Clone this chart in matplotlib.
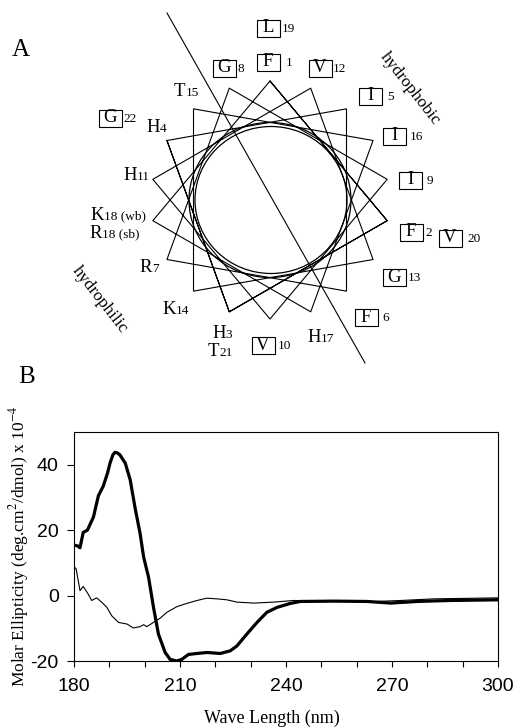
import numpy as np
import matplotlib
matplotlib.use("Agg")
import matplotlib.pyplot as plt
from matplotlib.patches import Rectangle, Ellipse

plt.rcParams["axes.unicode_minus"] = False

# ---------------- data ----------------
residue_letters = ["F", "F", "H", "H", "I", "F", "R", "G", "I", "V", "H",
                   "V", "G", "K", "T", "I", "H", "K", "L", "V", "T", "G"]
residue_numbers = list(range(1, 23))
hydrophobic = [1, 2, 5, 6, 8, 9, 10, 12, 13, 16, 19, 20, 22]
wheel_step_deg = 100

wl_peptide = [180, 181, 181.7, 182.6, 183.8, 185.5, 186.9, 188.3, 189.5, 190.2, 191,
              191.6, 192.3, 193, 194.5, 195.9, 197.3, 198.7, 199.7, 201.1, 202.5,
              203.9, 205.8, 207.2, 209.1, 210.5, 212.4, 214.8, 217.6, 221.4, 224.2,
              226.1, 228.9, 231.8, 234.6, 237.5, 241.2, 244.1, 253.5, 263, 269.6,
              277.2, 286.6, 300]
el_peptide = [15.4, 15.2, 14.6, 19.3, 20, 24, 30.5, 33.5, 37.5, 40.5, 43,
              43.8, 43.6, 43, 40.5, 35.4, 26.7, 19, 11.8, 5.6, -3.6,
              -11.8, -17.4, -19.5, -20, -19.5, -18, -17.7, -17.4, -17.7, -16.9,
              -15.4, -11.8, -8.2, -5.1, -3.6, -2.4, -1.8, -1.7, -1.8, -2.3,
              -1.8, -1.5, -1.3]

wl_control = [180.3, 180.6, 181.7, 182.6, 184, 185, 186.4, 187.8, 189.3, 190.7,
              192.6, 195, 196.8, 198.7, 199.7, 200.6, 202.5, 204.4, 206.3, 209.1,
              211.9, 214.8, 217.6, 220.4, 223.3, 226.1, 230.8, 236.5, 242.2, 253.5,
              263, 272.5, 281.9, 300]
el_control = [8.5, 8.2, 1.5, 2.8, 0.5, -1.5, -0.7, -2, -3.6, -6.2,
              -8.2, -8.7, -9.9, -9.5, -8.9, -9.5, -8.2, -6.9, -5.1, -3.4,
              -2.4, -1.5, -0.8, -1, -1.3, -2, -2.3, -2, -1.5, -1.7,
              -1.9, -1.5, -1, -0.7]

x_ticks = [180, 210, 240, 270, 300]
y_ticks = [-20, 0, 20, 40]

# ---------------- layout ----------------
SERIF = ["Liberation Serif", "DejaVu Serif"]
SANS = ["Liberation Sans", "DejaVu Sans"]

# letter-centre positions of wheel labels (pixel layout)
label_pos = {
    1: (268, 62), 2: (411, 232), 3: (219, 333), 4: (153, 128), 5: (370, 96),
    6: (366, 317), 7: (146, 267), 8: (224, 68), 9: (410, 180), 10: (263, 345),
    11: (130, 176), 12: (320, 68), 13: (394, 277), 14: (169, 310), 15: (179, 92),
    16: (394, 136), 17: (314, 337), 18: (97, 215), 19: (268, 28), 20: (450, 238),
    21: (213, 352), 22: (110, 118),
}
num_gap = {1: 18, 2: 14, 5: 17, 6: 16, 8: 13, 9: 17, 10: 15, 12: 13, 13: 14,
           16: 16, 19: 14, 20: 17, 22: 13}

fig = plt.figure(figsize=(5.14, 7.27), dpi=100)
axA = fig.add_axes([0, 0, 1, 1])
axA.set_xlim(0, 514)
axA.set_ylim(727, 0)
axA.axis("off")

cx, cy, R = 270, 200, 119
ang = np.deg2rad(90 - wheel_step_deg * (np.array(residue_numbers) - 1))
vx = cx + R * np.cos(ang)
vy = cy - R * np.sin(ang)
axA.plot(vx, vy, color="black", lw=0.8)
axA.add_patch(Ellipse((270, 200), 162, 155, fill=False, lw=0.9, ec="black"))
axA.add_patch(Ellipse((271, 200), 152, 147, fill=False, lw=0.9, ec="black"))
axA.plot([167, 365], [13, 363], color="black", lw=0.8)

LFS, NFS = 13.5, 9.5
for n, letter in zip(residue_numbers, residue_letters):
    x, y = label_pos[n]
    if n in hydrophobic:
        axA.add_patch(Rectangle((x - 11.5, y - 8.5), 23, 17, fill=False, lw=0.8, ec="black"))
        axA.text(x, y, letter, ha="center", va="center", fontsize=LFS, family=SERIF)
        axA.text(x + num_gap[n], y + 1, str(n), ha="left", va="center", fontsize=NFS, family=SERIF)
    else:
        axA.text(x, y, letter, ha="center", va="center", fontsize=LFS, family=SERIF)
        suffix = str(n) + (" (wb)" if n == 18 else "")
        axA.text(x + 6.5, y + 1.5, suffix, ha="left", va="center", fontsize=NFS, family=SERIF)
# variant at position 18
axA.text(96, 233, "R", ha="center", va="center", fontsize=LFS, family=SERIF)
axA.text(102.5, 234.5, "18 (sb)", ha="left", va="center", fontsize=NFS, family=SERIF)

axA.text(410, 89, "hydrophobic", rotation=-52, ha="center", va="center", fontsize=12.5, family=SERIF)
axA.text(100, 300, "hydrophilic", rotation=-52, ha="center", va="center", fontsize=12.5, family=SERIF)
axA.text(21, 50, "A", ha="center", va="center", fontsize=18, family=SERIF)
axA.text(27, 377, "B", ha="center", va="center", fontsize=18, family=SERIF)

# ---------------- panel B ----------------
W, H = 514, 727
axB = fig.add_axes([74 / W, (H - 661) / H, 424 / W, 229 / H])
axB.patch.set_alpha(0)
axB.plot(wl_control, el_control, color="black", lw=0.8)
axB.plot(wl_peptide, el_peptide, color="black", lw=2.3, solid_joinstyle="round")
axB.set_xlim(180, 300)
axB.set_ylim(-20, 50)
axB.set_xticks(x_ticks)
axB.set_xticks(np.arange(180, 301, 10), minor=True)
axB.set_yticks(y_ticks)
axB.tick_params(axis="y", which="major", direction="out", length=5, width=0.8, labelsize=14, pad=6)
axB.tick_params(axis="x", which="major", direction="out", length=4, width=0.8, labelsize=14, pad=8)
axB.tick_params(axis="x", which="minor", direction="out", length=4, width=0.8)
for lab in axB.get_xticklabels() + axB.get_yticklabels():
    lab.set_family(SANS)
for s in axB.spines.values():
    s.set_linewidth(0.8)

fig.text(19 / W, 1 - 546 / H, "Molar Ellipticity (deg.cm$^{2}$/dmol) x 10$^{-4}$",
         rotation=90, ha="center", va="center", fontsize=12.5, family=SERIF,
         math_fontfamily="stix")
fig.text(272 / W, 1 - 718 / H, "Wave Length (nm)", ha="center", va="center",
         fontsize=13, family=SERIF)

fig.savefig("out.png", dpi=100)
